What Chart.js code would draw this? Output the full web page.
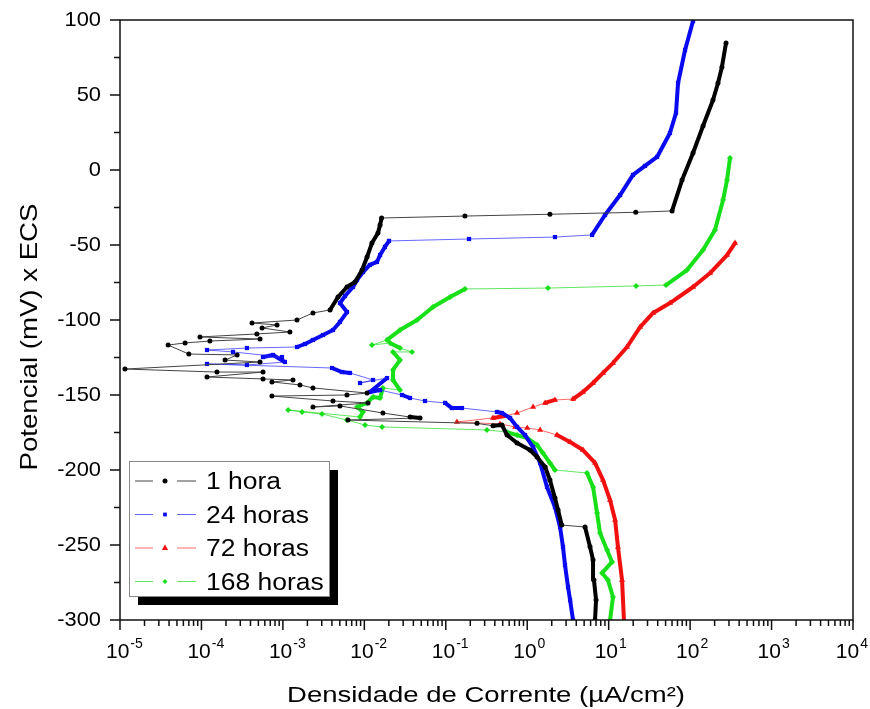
<!DOCTYPE html>
<html lang="pt">
<head>
<meta charset="UTF-8" />
<title>Curvas de polarização</title>
<script src="https://cdn.jsdelivr.net/npm/chart.js"></script>
<style>
  html, body { margin: 0; padding: 0; background: #fff; }
  #wrap { width: 870px; height: 709px; }
</style>
</head>
<body>
<div id="wrap"><canvas id="polChart" width="870" height="709"></canvas></div>

<script>
  // tick labels
  const xTickExps = [-5, -4, -3, -2, -1, 0, 1, 2, 3, 4];
  const yTicks = [-300, -250, -200, -150, -100, -50, 0, 50, 100];
  const seriesNames = ['1 hora', '24 horas', '72 horas', '168 horas'];

  // 1 hora  (µA/cm², mV)
  const hora1X = [6.8, 7.0, 6.6, 6.43, 5.9, 5.13, 2.65, 2.39, 2.19, 1.9, 1.66, 1.32, 1.08, 0.75, 0.565, 0.49,
    0.38, 0.242, 0.0063, 0.0483, 0.0364, 0.0169, 0.00502, 0.00234, 0.0111, 0.00412, 0.000734, 0.00612, 0.0108,
    0.00234, 0.00162, 0.000734, 0.00133, 0.00057, 0.000117, 0.00057, 0.000155, 1.15e-5, 0.000524, 0.000195,
    0.000274, 7.0e-5, 3.9e-5, 6.3e-5, 0.000127, 0.000524, 9.6e-5, 0.00048, 0.00122, 0.000555, 0.000848,
    0.000418, 0.00149, 0.00234, 0.00379, 0.00475, 0.00612, 0.00769, 0.00938, 0.0108, 0.0124, 0.0147, 0.0156,
    0.0163, 0.172, 1.9, 21.5, 60, 79.6, 108.6, 144, 191, 220, 246, 276];
  const hora1Y = [-300, -286.7, -273.3, -260, -251.1, -238, -236.7, -226.7, -218.7, -206.7, -198, -191.3, -186.7,
    -182, -176.7, -170, -170.5, -168.9, -166.7, -165.3, -164.7, -162, -157.3, -158, -155.3, -154, -150.7, -150,
    -148.7, -145.3, -143.3, -141.3, -140, -139.3, -138, -134.7, -134.7, -132.7, -128, -126.7, -123.3, -122.7,
    -116.7, -115.3, -114, -112.7, -111.3, -109.3, -108, -105.3, -103.3, -102, -100, -95.3, -93.3, -84.7, -78,
    -74.7, -66.7, -58, -48.7, -42, -36.7, -32, -30.7, -29.5, -28.2, -27.3, -6.7, 11.3, 29.3, 46.7, 58, 68.7, 84.7];

  // 24 horas
  const hora24X = [3.65, 3.36, 3.17, 2.91, 2.75, 2.53, 2.19, 1.75, 1.44, 1.18, 0.94, 0.75, 0.615, 0.49, 0.425,
    0.158, 0.119, 0.098, 0.0556, 0.0364, 0.029, 0.0156, 0.0117, 0.019, 0.00885, 0.0128, 0.00667, 0.00532,
    0.00401, 0.000117, 0.000362, 0.00106, 0.000757, 0.00057, 0.000975, 0.000244, 0.000117, 0.000362, 0.00149,
    0.00187, 0.00234, 0.00311, 0.00412, 0.00502, 0.00612, 0.00502, 0.00579, 0.00726, 0.00813, 0.00964, 0.0117,
    0.0143, 0.0156, 0.0179, 0.0201, 0.193, 2.19, 6.25, 9.02, 13.8, 19.9, 27.9, 39.3, 56.6, 67.1, 71.1, 86.7, 108.6];
  const hora24Y = [-300, -286.7, -278, -263.3, -251.3, -238, -224.7, -211.3, -195.3, -184.7, -176.7, -171.3,
    -165.3, -162, -161.3, -158.7, -158.7, -155.3, -154, -152, -150, -146.7, -148, -138.7, -142, -140, -135.3,
    -134.7, -132, -129.3, -130, -128, -123.3, -124.7, -124.7, -121.3, -120, -118.7, -118, -116, -113.3, -110,
    -106.7, -101.3, -94.7, -88.7, -84, -78, -73.3, -68, -63.3, -61.3, -56.7, -51.3, -47.3, -46, -44.7, -43.3,
    -30, -16.7, -3.3, 2.7, 8.7, 24.7, 38, 58, 80, 99.3];

  // 72 horas
  const hora72X = [15.4, 14.6, 13.0, 12.0, 10.4, 8.53, 6.8, 4.84, 3.36, 2.32, 1.44, 1.0, 0.71, 0.463, 0.137,
    0.38, 0.533, 0.75, 1.18, 1.66, 2.19, 3.65, 4.84, 6.43, 8.53, 11.3, 16.8, 24.3, 35.1, 56.6, 108.6, 176, 284, 356];
  const hora72Y = [-300, -273.3, -251.3, -233.3, -220, -206.7, -195.3, -186.7, -181.3, -176.7, -173.3, -172,
    -171.3, -169.3, -168, -165.3, -164, -162, -158, -155.3, -153.3, -152.7, -148, -142, -135.3, -128.7, -118,
    -104.7, -95.3, -88.7, -78, -68.7, -56.7, -48.7];

  // 168 horas
  const hora168X = [10.4, 11.3, 9.8, 8.28, 11.0, 9.55, 7.83, 7.2, 6.43, 5.42, 2.19, 1.9, 1.56, 1.32, 1.0, 0.75,
    0.565, 0.32, 0.0165, 0.0102, 0.00612, 0.00302, 0.00172, 0.00116, 0.00885, 0.00964, 0.00813, 0.0108, 0.0128,
    0.0156, 0.0169, 0.0274, 0.0225, 0.0225, 0.0274, 0.0225, 0.0385, 0.0274, 0.0207, 0.0124, 0.019, 0.0274,
    0.0444, 0.0697, 0.113, 0.172, 1.8, 21.7, 50.6, 91.6, 144, 202, 254, 284, 309];
  const hora168Y = [-300, -284.7, -273.3, -268.7, -261.3, -253.3, -242, -228.7, -211.3, -202, -200, -195.3,
    -188.7, -183.3, -178.7, -176.7, -174.7, -173.3, -171.3, -170, -166.7, -162.7, -161.3, -160, -164.7, -161.3,
    -158, -155.3, -151.3, -152, -145.3, -146.7, -140, -133.3, -126.7, -121.3, -121.3, -118.7, -115.3, -116.7,
    -113.3, -106.7, -100, -91.3, -84.7, -79.3, -78.7, -77.3, -76.7, -66.7, -53.3, -40, -20, -6.7, 8];

  const FONT = 'Arial, "Liberation Sans", sans-serif';

  // long, flat jumps between readings are drawn thin, dense runs thick
  function isJump(c) {
    const dx = Math.abs(c.p1.x - c.p0.x);
    const dy = Math.abs(c.p1.y - c.p0.y);
    return (dx >= 12 && dy < 0.45 * dx) || Math.hypot(dx, dy) > 45;
  }

  function makeSet(label, xs, ys, color, thinColor, style, radius) {
    return {
      label: label,
      data: xs.map((v, i) => ({ x: v, y: ys[i] })),
      showLine: true,
      borderColor: color,
      backgroundColor: color,
      borderWidth: 4,
      borderJoinStyle: 'round',
      borderCapStyle: 'round',
      pointStyle: style,
      pointRadius: radius,
      pointHoverRadius: radius,
      pointBorderWidth: 0,
      legendLine: thinColor,
      segment: {
        borderWidth: c => isJump(c) ? 1 : 4,
        borderColor: c => isJump(c) ? thinColor : color
      }
    };
  }

  function stretchText(ctx, text, x, y, sx, align) {
    ctx.save();
    ctx.translate(x, y);
    ctx.scale(sx, 1);
    ctx.textAlign = align;
    ctx.fillText(text, 0, 0);
    ctx.restore();
  }

  function marker(ctx, style, x, y, r) {
    ctx.beginPath();
    if (style === 'circle') {
      ctx.arc(x, y, r, 0, Math.PI * 2);
    } else if (style === 'rect') {
      ctx.rect(x - r * 0.75, y - r * 0.75, r * 1.5, r * 1.5);
    } else if (style === 'triangle') {
      ctx.moveTo(x, y - r);
      ctx.lineTo(x + r * 0.9, y + r * 0.6);
      ctx.lineTo(x - r * 0.9, y + r * 0.6);
      ctx.closePath();
    } else {
      ctx.moveTo(x, y - r);
      ctx.lineTo(x + r, y);
      ctx.lineTo(x, y + r);
      ctx.lineTo(x - r, y);
      ctx.closePath();
    }
    ctx.fill();
  }

  const axesPlugin = {
    id: 'axesPlugin',
    afterDraw(chart) {
      const { ctx, chartArea: a, scales: { x, y } } = chart;
      ctx.save();

      // frame
      ctx.strokeStyle = '#111';
      ctx.lineWidth = 1.5;
      ctx.strokeRect(a.left, a.top, a.right - a.left, a.bottom - a.top);

      // ticks
      ctx.beginPath();
      yTicks.forEach((v, i) => {
        const py = y.getPixelForValue(v);
        ctx.moveTo(a.left - 10, py); ctx.lineTo(a.left, py);
        if (i < yTicks.length - 1) {
          const pm = y.getPixelForValue((v + yTicks[i + 1]) / 2);
          ctx.moveTo(a.left - 6, pm); ctx.lineTo(a.left, pm);
        }
      });
      xTickExps.forEach((e, i) => {
        const px = x.getPixelForValue(Math.pow(10, e));
        ctx.moveTo(px, a.bottom); ctx.lineTo(px, a.bottom + 10);
        if (i < xTickExps.length - 1) {
          for (let k = 2; k <= 9; k++) {
            const pm = x.getPixelForValue(k * Math.pow(10, e));
            ctx.moveTo(pm, a.bottom); ctx.lineTo(pm, a.bottom + 6);
          }
        }
      });
      ctx.stroke();

      // tick labels
      ctx.fillStyle = '#000';
      ctx.font = '21px ' + FONT;
      ctx.textBaseline = 'middle';
      yTicks.forEach(v => {
        stretchText(ctx, String(v), a.left - 19, y.getPixelForValue(v), 1.04, 'right');
      });
      ctx.textBaseline = 'alphabetic';
      xTickExps.forEach(e => {
        const px = x.getPixelForValue(Math.pow(10, e));
        ctx.font = '21px ' + FONT;
        const w = ctx.measureText('10').width;
        ctx.font = '14px ' + FONT;
        const we = ctx.measureText(String(e)).width;
        const left = Math.min(px - 14, chart.width - 2 - w - we - 1);
        ctx.font = '21px ' + FONT;
        stretchText(ctx, '10', left, a.bottom + 38, 1, 'left');
        ctx.font = '14px ' + FONT;
        stretchText(ctx, String(e), left + w + 1, a.bottom + 28, 1, 'left');
      });

      // axis titles
      ctx.font = '22px ' + FONT;
      stretchText(ctx, 'Densidade de Corrente (µA/cm²)', 486, 702, 1.25, 'center');
      ctx.save();
      ctx.translate(37, 337);
      ctx.rotate(-Math.PI / 2);
      ctx.font = '24px ' + FONT;
      stretchText(ctx, 'Potencial (mV) x ECS', 0, 0, 1.15, 'center');
      ctx.restore();

      // legend with drop shadow
      const lx = 129.5, ly = 461.5, lw = 200, lh = 135;
      ctx.fillStyle = '#000';
      ctx.fillRect(lx + 8.5, ly + 8.5, lw, lh);
      ctx.fillStyle = '#fff';
      ctx.fillRect(lx, ly, lw, lh);
      ctx.strokeStyle = '#888';
      ctx.lineWidth = 1;
      ctx.strokeRect(lx, ly, lw, lh);
      chart.data.datasets.forEach((ds, i) => {
        const cy = 481 + i * 33.5;
        ctx.strokeStyle = ds.legendLine;
        ctx.lineWidth = 1;
        ctx.beginPath();
        ctx.moveTo(135, cy); ctx.lineTo(153, cy);
        ctx.moveTo(177, cy); ctx.lineTo(196, cy);
        ctx.stroke();
        ctx.fillStyle = ds.borderColor;
        marker(ctx, ds.pointStyle, 165, cy, ds.pointStyle === 'triangle' ? 3.5 : 2.5);
        ctx.fillStyle = '#000';
        ctx.font = '23px ' + FONT;
        stretchText(ctx, ds.label, 206, cy + 8, 1.15, 'left');
      });

      ctx.restore();
    }
  };

  const config = {
    type: 'scatter',
    data: {
      datasets: [
        makeSet(seriesNames[0], hora1X, hora1Y, '#000000', '#444444', 'circle', 2.5),
        makeSet(seriesNames[1], hora24X, hora24Y, '#0a0af0', 'rgba(40,40,255,0.7)', 'rect', 3),
        makeSet(seriesNames[2], hora72X, hora72Y, '#f01010', 'rgba(255,40,40,0.7)', 'triangle', 3.5),
        makeSet(seriesNames[3], hora168X, hora168Y, '#18e018', 'rgba(30,220,30,0.7)', 'rectRot', 3)
      ]
    },
    options: {
      responsive: false,
      animation: false,
      layout: { padding: { left: 120, right: 17, top: 20, bottom: 89 } },
      plugins: {
        legend: { display: false },
        tooltip: { enabled: false }
      },
      scales: {
        x: { type: 'logarithmic', min: 1e-5, max: 1e4, display: false },
        y: { type: 'linear', min: -300, max: 100, display: false }
      }
    },
    plugins: [axesPlugin]
  };

  new Chart(document.getElementById('polChart').getContext('2d'), config);
</script>

</body>
</html>
